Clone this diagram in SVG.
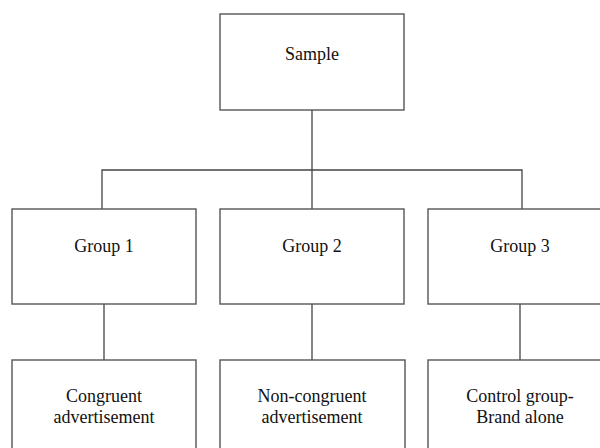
<svg xmlns="http://www.w3.org/2000/svg" width="600" height="448" viewBox="0 0 600 448">
<style>
.box{fill:#fff;stroke:#555;stroke-width:1.4}
.ln{fill:none;stroke:#444;stroke-width:1.3}
.t{font-family:'Liberation Serif','Times New Roman',serif;font-size:18px;fill:#111;text-anchor:middle}
</style>
<rect width="600" height="448" fill="#fff"/>
<g id="connectors">
<path class="ln" d="M312,110 V170 M102,209 V170 H522 V209 M312,170 V209 M104,304 V360 M312,304 V360 M520,304 V360"/>
</g>
<g id="sample"><rect class="box" x="220" y="14" width="184" height="96"/><text class="t" x="312" y="60">Sample</text></g>
<g id="group1"><rect class="box" x="12" y="209" width="184" height="95"/><text class="t" x="104" y="252">Group 1</text></g>
<g id="group2"><rect class="box" x="220" y="209" width="184" height="95"/><text class="t" x="312" y="252">Group 2</text></g>
<g id="group3"><rect class="box" x="428" y="209" width="184" height="95"/><text class="t" x="520" y="252">Group 3</text></g>
<g id="congruent"><rect class="box" x="12" y="360" width="184" height="96"/><text class="t" x="104" y="402">Congruent</text><text class="t" x="104" y="423">advertisement</text></g>
<g id="noncongruent"><rect class="box" x="220" y="360" width="185" height="96"/><text class="t" x="312" y="402">Non-congruent</text><text class="t" x="312" y="423">advertisement</text></g>
<g id="control"><rect class="box" x="428" y="360" width="184" height="96"/><text class="t" x="520" y="402">Control group-</text><text class="t" x="520" y="423">Brand alone</text></g>
</svg>
